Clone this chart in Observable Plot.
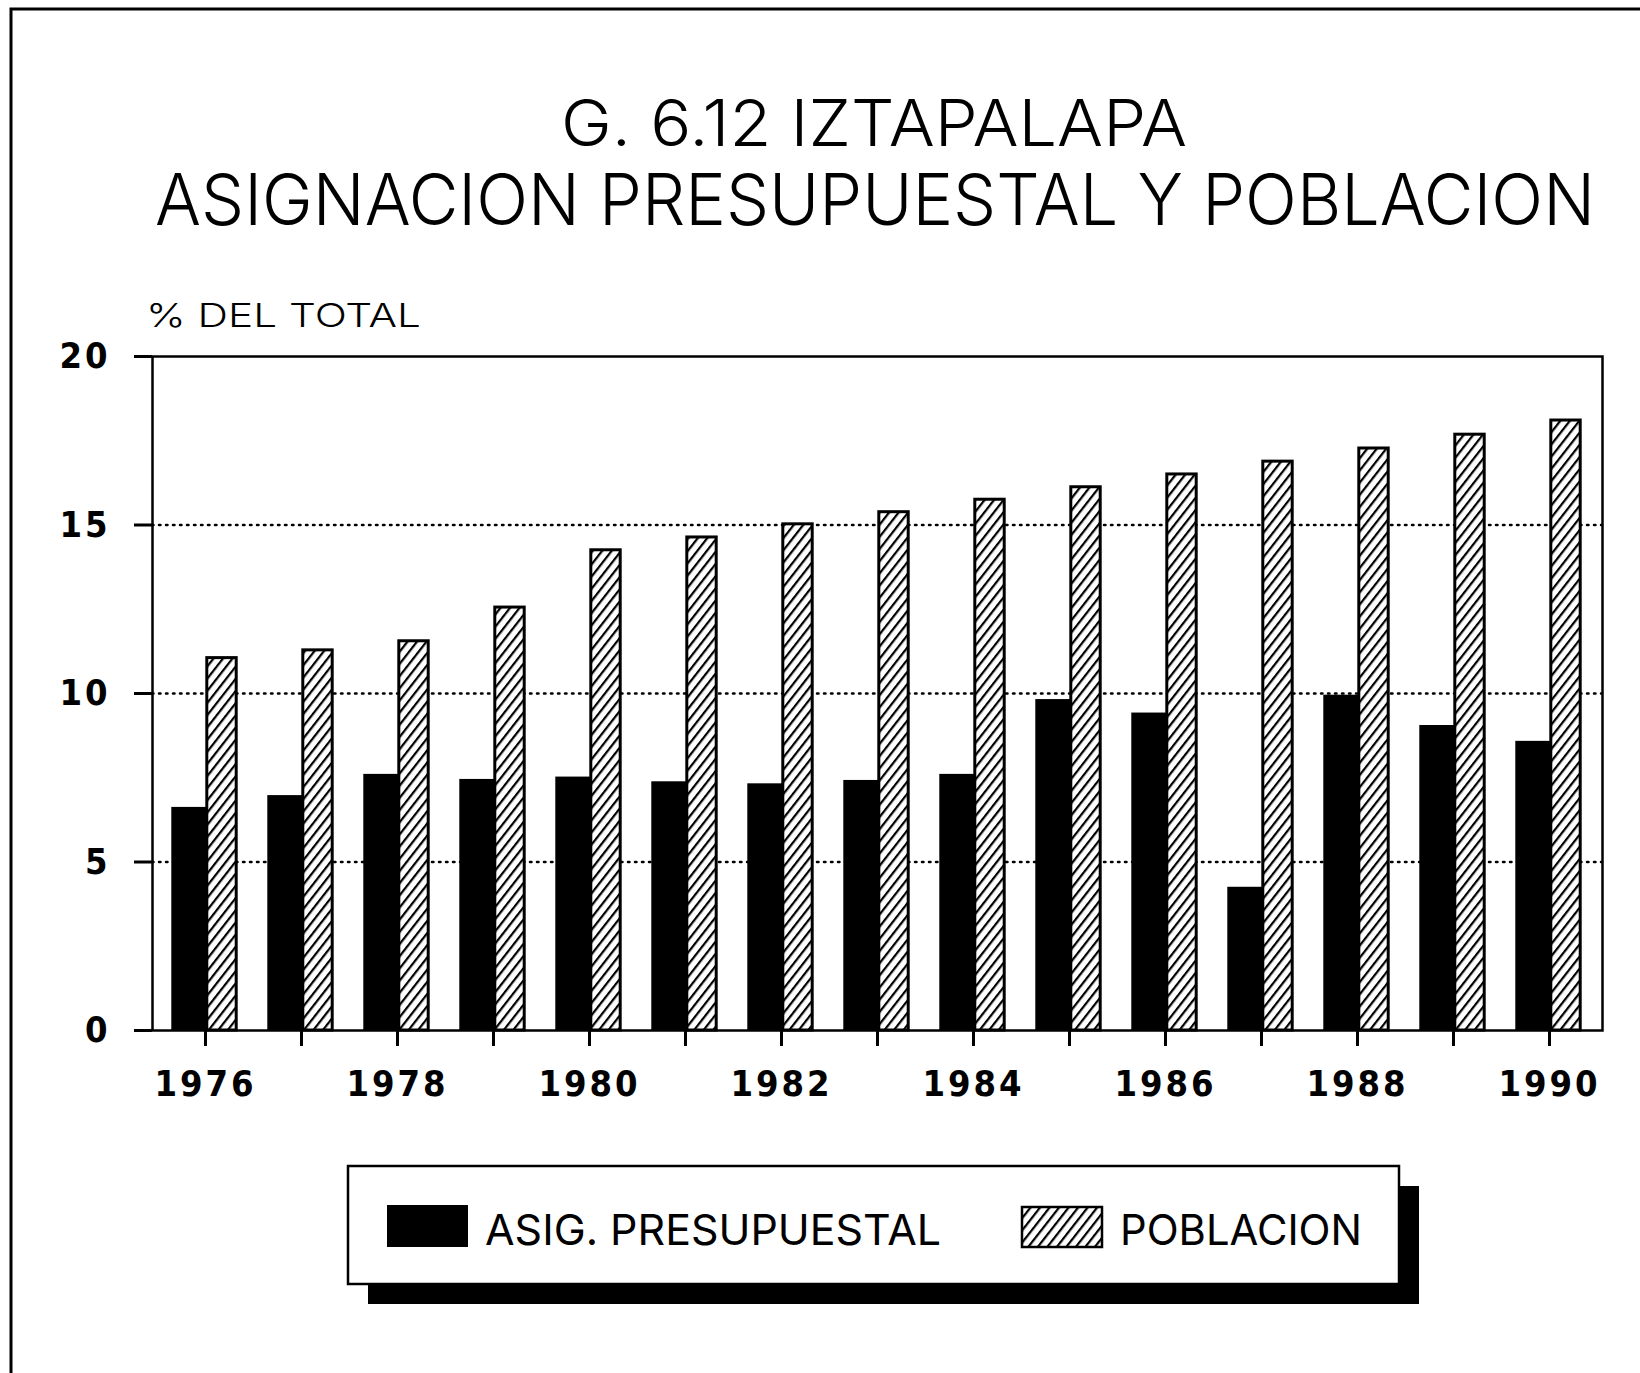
<!DOCTYPE html>
<html><head><meta charset="utf-8">
<script src="https://cdn.jsdelivr.net/npm/d3@7"></script>
<script src="https://cdn.jsdelivr.net/npm/@observablehq/plot@0.6"></script>
<style>
html,body{margin:0;padding:0;background:#fff;}
#page{position:relative;width:1640px;height:1373px;overflow:hidden;background:#fff;}
#overlay{position:absolute;left:0;top:0;}
#chart{position:absolute;left:0;top:330px;}
.t{font-family:Inter,Roboto,Lato,'DejaVu Sans',sans-serif;fill:#000;}
.thin{font-weight:300;}
</style></head><body>
<div id="page">
<svg id="overlay" width="1640" height="1373" xmlns="http://www.w3.org/2000/svg">
  <defs>
    <pattern id="hatch2" patternUnits="userSpaceOnUse" width="7.5" height="20" patternTransform="rotate(38)">
      <line x1="3" y1="0" x2="3" y2="20" stroke="#000" stroke-width="2.2"/>
    </pattern>
  </defs>
  <path d="M11,1373 V9 H1640" fill="none" stroke="#000" stroke-width="3"/>
  <g transform="translate(874,146) scale(1,1.3)">
    <text class="t thin" x="0" y="0" font-size="50" text-anchor="middle" textLength="626" lengthAdjust="spacingAndGlyphs">G. 6.12 IZTAPALAPA</text>
  </g>
  <g transform="translate(875,225) scale(1,1.3)">
    <text class="t thin" x="0" y="0" font-size="55" text-anchor="middle" textLength="1440" lengthAdjust="spacingAndGlyphs">ASIGNACION PRESUPUESTAL Y POBLACION</text>
  </g>
  <g transform="translate(146,327) scale(1,1.3)">
    <text class="t thin" x="0" y="0" font-size="25" textLength="275" lengthAdjust="spacingAndGlyphs">% DEL TOTAL</text>
  </g>
  <rect x="368" y="1186" width="1051" height="118" fill="#000"/>
  <rect x="348" y="1166" width="1051" height="118" fill="#fff" stroke="#000" stroke-width="2.5"/>
  <rect x="387" y="1205" width="81" height="42" fill="#000"/>
  <g transform="translate(485,1245) scale(1,1.3)">
    <text class="t" x="0" y="0" font-size="33" textLength="456" lengthAdjust="spacingAndGlyphs">ASIG. PRESUPUESTAL</text>
  </g>
  <rect x="1022" y="1207" width="80" height="40" fill="url(#hatch2)" stroke="#000" stroke-width="2.5"/>
  <g transform="translate(1120,1245) scale(1,1.3)">
    <text class="t" x="0" y="0" font-size="33" textLength="242" lengthAdjust="spacingAndGlyphs">POBLACION</text>
  </g>
</svg>
<div id="chart"></div>
</div>
<script>
const years = [1976, 1977, 1978, 1979, 1980, 1981, 1982, 1983, 1984, 1985, 1986, 1987, 1988, 1989, 1990];
const asignacion = [6.62, 6.97, 7.6, 7.45, 7.52, 7.38, 7.32, 7.42, 7.6, 9.82, 9.42, 4.25, 9.95, 9.05, 8.58];
const poblacion = [11.05, 11.28, 11.55, 12.55, 14.25, 14.63, 15.02, 15.38, 15.75, 16.12, 16.5, 16.88, 17.27, 17.68, 18.1];
const yTicks = [0, 5, 10, 15, 20];
const gridValues = [5, 10, 15];

const data = years.map((y, i) => ({year: y, asig: asignacion[i], pob: poblacion[i]}));
const font = "'DejaVu Sans Condensed','Liberation Sans Narrow','DejaVu Sans',sans-serif";

const plot = Plot.plot({
  width: 1640, height: 800,
  marginLeft: 152, marginRight: 38, marginTop: 26, marginBottom: 100,
  style: {fontFamily: font, background: "transparent", color: "#000"},
  x: {type: "band", domain: years, padding: 0, label: null},
  y: {domain: [0, 20], label: null},
  marks: [
    Plot.ruleY(gridValues, {stroke: "#000", strokeWidth: 2.5, strokeDasharray: "1.5,5.5", strokeLinecap: "round"}),
    Plot.barY(data, {x: "year", y: "asig", fill: "#000", insetLeft: 14.3, insetRight: 46.3}),
    Plot.barY(data, {x: "year", y: "pob", fill: "url(#hatch)", stroke: "#000", strokeWidth: 3, insetLeft: 49.8, insetRight: 16.8}),
    Plot.frame({stroke: "#000", strokeWidth: 2.5}),
    Plot.axisY({ticks: yTicks, tickSize: 18, tickPadding: 24, strokeWidth: 3, fontSize: 36, fontWeight: "bold", label: null, tickFormat: d => String(d)}),
    Plot.axisX({ticks: years, tickSize: 16, tickPadding: 24, strokeWidth: 3, fontSize: 36, fontWeight: "bold", label: null, tickFormat: d => d % 2 === 0 ? String(d) : ""})
  ]
});

// hatch pattern definition
const ns = "http://www.w3.org/2000/svg";
const defs = document.createElementNS(ns, "defs");
const pat = document.createElementNS(ns, "pattern");
pat.setAttribute("id", "hatch");
pat.setAttribute("patternUnits", "userSpaceOnUse");
pat.setAttribute("width", "7.5");
pat.setAttribute("height", "20");
pat.setAttribute("patternTransform", "rotate(38)");
const bg = document.createElementNS(ns, "rect");
bg.setAttribute("width", "7.5"); bg.setAttribute("height", "20"); bg.setAttribute("fill", "#fff");
const ln = document.createElementNS(ns, "line");
ln.setAttribute("x1", "3"); ln.setAttribute("y1", "0"); ln.setAttribute("x2", "3"); ln.setAttribute("y2", "20");
ln.setAttribute("stroke", "#000"); ln.setAttribute("stroke-width", "2.2");
pat.appendChild(bg); pat.appendChild(ln);
defs.appendChild(pat);
plot.insertBefore(defs, plot.firstChild);
plot.querySelectorAll("text").forEach(t => t.style.letterSpacing = "3px");

document.getElementById("chart").appendChild(plot);
</script>
</body></html>
